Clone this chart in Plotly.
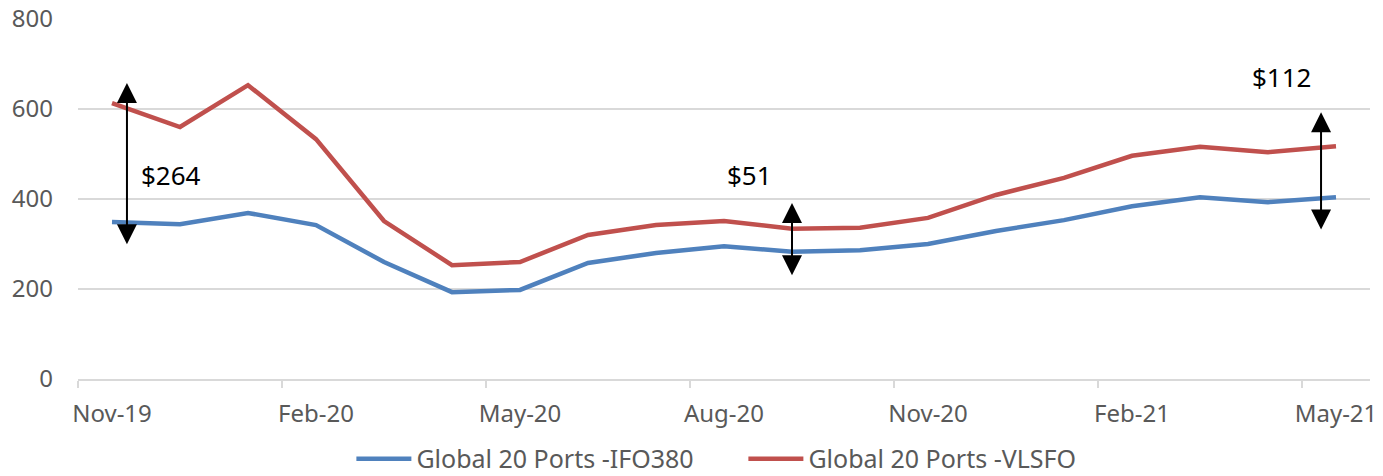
import plotly.graph_objects as go

months = ["Nov-19", "Dec-19", "Jan-20", "Feb-20", "Mar-20", "Apr-20", "May-20",
          "Jun-20", "Jul-20", "Aug-20", "Sep-20", "Oct-20", "Nov-20", "Dec-20",
          "Jan-21", "Feb-21", "Mar-21", "Apr-21", "May-21"]
ifo380 = [349, 344, 369, 342, 260, 193, 198, 258, 280, 295, 283, 286, 300, 329,
          353, 384, 404, 393, 404]
vlsfo = [613, 560, 653, 533, 351, 253, 260, 320, 342, 351, 334, 336, 358, 409,
         447, 496, 516, 504, 517]
tick_labels = ["Nov-19", "Feb-20", "May-20", "Aug-20", "Nov-20", "Feb-21", "May-21"]

# spread annotations: (x position in months index, top, bottom, label, label x, label y)
spreads = [
    (0.22, 658, 296, "$264", 0.87, 453),
    (10.0, 391, 227, "$51", 9.38, 453),
    (17.78, 593, 329, "$112", 17.2, 671),
]

x = list(range(len(months)))
tickvals = [months.index(t) for t in tick_labels]
boundaries = [v - 0.5 for v in tickvals]

fig = go.Figure()
fig.add_trace(go.Scatter(x=x, y=ifo380, mode="lines", name="Global 20 Ports -IFO380",
                         line=dict(color="#4F81BD", width=4.5)))
fig.add_trace(go.Scatter(x=x, y=vlsfo, mode="lines", name="Global 20 Ports -VLSFO",
                         line=dict(color="#C0504D", width=4.5)))

annotations = []
for ax_, top, bot, label, lx, ly in spreads:
    annotations.append(dict(x=ax_, y=top, ax=ax_, ay=bot, xref="x", yref="y",
                            axref="x", ayref="y", text="", showarrow=True,
                            arrowhead=2, arrowside="end+start", arrowsize=2,
                            arrowwidth=2, arrowcolor="black"))
    annotations.append(dict(x=lx, y=ly, xref="x", yref="y", text=label,
                            showarrow=False, font=dict(size=26, color="black")))

fig.update_layout(
    width=1383, height=476,
    margin=dict(l=78, r=13, t=19, b=97, autoexpand=False),
    paper_bgcolor="white", plot_bgcolor="white",
    font=dict(family="Noto Sans", size=24, color="#595959"),
    showlegend=True,
    legend=dict(orientation="h", x=0.515, xanchor="center", y=-0.222, yanchor="middle",
                font=dict(size=25, color="#595959"), itemwidth=55, tracegroupgap=0,
                entrywidth=322),
    annotations=annotations,
    xaxis=dict(range=[-0.5, 18.5], tickvals=tickvals, ticktext=tick_labels,
               showgrid=False, zeroline=False, showline=True, linecolor="#D9D9D9",
               linewidth=1.5, ticks="", ticklabelstandoff=12, automargin=False,
               minor=dict(tickvals=boundaries, ticks="outside", ticklen=7,
                          tickcolor="#D9D9D9", tickwidth=1.5, showgrid=False)),
    yaxis=dict(range=[0, 800], tickvals=[0, 200, 400, 600, 800], showgrid=True,
               gridcolor="#D9D9D9", gridwidth=1.5, zeroline=False, showline=False,
               ticklabelstandoff=24, automargin=False),
)

fig.write_html("out.html", config={"displayModeBar": False},
               post_script="document.body.style.margin='0';document.body.style.overflow='hidden';")
